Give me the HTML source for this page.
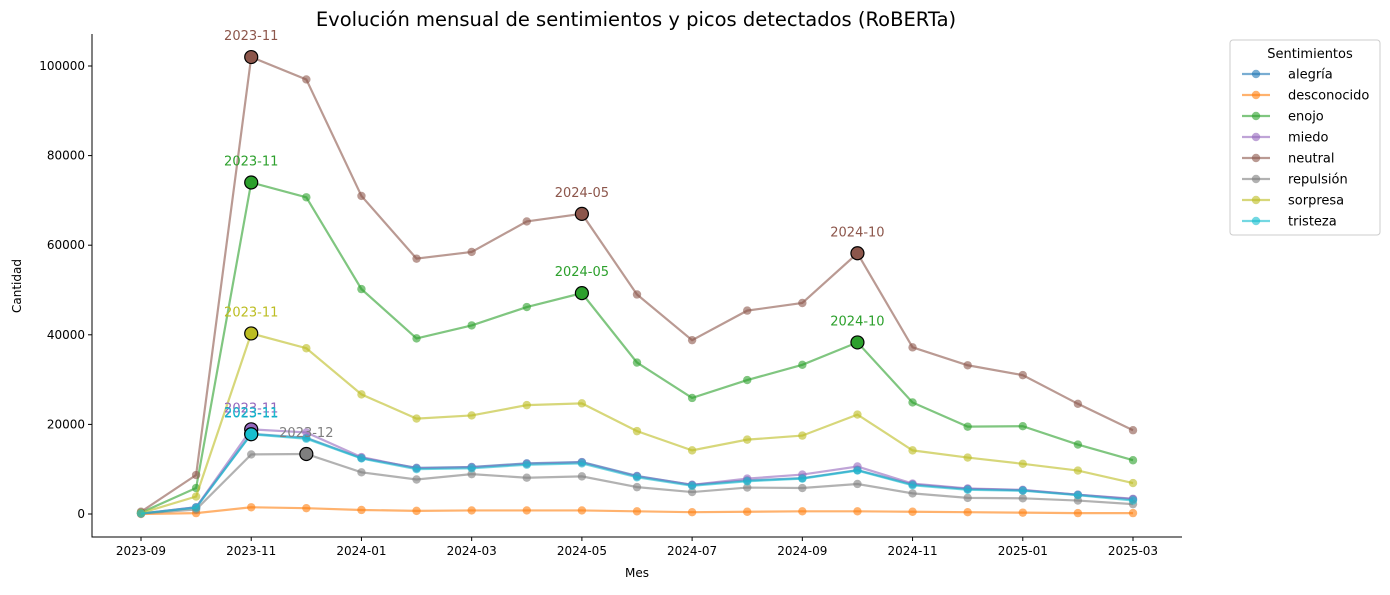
<!DOCTYPE html>
<html><head><meta charset="utf-8"><style>
body{margin:0;background:#fff;font-family:"Liberation Sans","DejaVu Sans",sans-serif;}
svg text{font-family:"DejaVu Sans","Liberation Sans",sans-serif;}
</style></head><body>
<svg id="c" width="1390" height="590"></svg>
<script>
const months=["2023-09","2023-10","2023-11","2023-12","2024-01","2024-02","2024-03","2024-04","2024-05","2024-06","2024-07","2024-08","2024-09","2024-10","2024-11","2024-12","2025-01","2025-02","2025-03"];
const seriesNames=["alegría","desconocido","enojo","miedo","neutral","repulsión","sorpresa","tristeza"];
const seriesColors=["#1f77b4","#ff7f0e","#2ca02c","#9467bd","#8c564b","#7f7f7f","#bcbd22","#17becf"];
const alegria=[100,1500,17900,17000,12500,10300,10500,11300,11600,8500,6500,7500,8000,9800,6600,5600,5300,4300,3300];
const desconocido=[0,200,1500,1300,900,700,800,800,800,600,400,500,600,600,500,400,300,200,200];
const enojo=[300,5800,74000,70700,50200,39200,42100,46200,49300,33800,25900,29900,33300,38300,24900,19500,19600,15500,12000];
const miedo=[100,1500,18900,18200,12700,10200,10400,11200,11500,8400,6500,7900,8800,10600,6800,5700,5400,4300,3400];
const neutral=[500,8700,102000,97000,71000,57000,58500,65300,67000,49000,38800,45400,47100,58200,37200,33200,31000,24600,18700];
const repulsion=[100,1000,13300,13400,9300,7700,8900,8100,8400,6000,4900,5900,5800,6700,4600,3600,3500,3000,2200];
const sorpresa=[200,3900,40300,37000,26700,21300,22000,24300,24700,18500,14200,16600,17500,22200,14200,12600,11200,9700,6900];
const tristeza=[100,1400,17800,16800,12400,10000,10200,11000,11300,8200,6300,7300,7900,9700,6400,5400,5200,4200,3000];
const seriesData=[alegria,desconocido,enojo,miedo,neutral,repulsion,sorpresa,tristeza];
const peakIdx=[[2],[],[2,8,13],[2],[2,8,13],[3],[2],[2]];
const yTicks=[0,20000,40000,60000,80000,100000];
const xTickIdx=[0,2,4,6,8,10,12,14,16,18];

const NS="http://www.w3.org/2000/svg";
const svg=document.getElementById('c');
function el(t,a,p){const e=document.createElementNS(NS,t);for(const k in a)e.setAttribute(k,a[k]);(p||svg).appendChild(e);return e;}
const L=92,R=1182,T=34,B=537;
const x=i=>141+i*(1133-141)/18;
const y=v=>514-v*(514-66)/100000;

let t=el('text',{x:636,y:26,'font-size':19.5,'text-anchor':'middle'});t.textContent="Evolución mensual de sentimientos y picos detectados (RoBERTa)";

let ax=el('path',{d:`M${L} ${T}V${B}H${R}`,stroke:'#000',fill:'none','stroke-width':1});

yTicks.forEach(v=>{el('line',{x1:L-4,x2:L,y1:y(v),y2:y(v),stroke:'#000'});
 const tt=el('text',{x:L-7,y:y(v)+4,'font-size':12,'text-anchor':'end'});tt.textContent=v;
 });
xTickIdx.forEach(i=>{el('line',{x1:x(i),x2:x(i),y1:B,y2:B+4,stroke:'#000'});
 const tt=el('text',{x:x(i),y:B+18,'font-size':12,'text-anchor':'middle'});tt.textContent=months[i];
 });
t=el('text',{x:637,y:577,'font-size':12,'text-anchor':'middle'});t.textContent="Mes";

t=el('text',{x:21,y:286,'font-size':12,'text-anchor':'middle',transform:'rotate(-90 21 286)'});t.textContent="Cantidad";


seriesData.forEach((d,s)=>{
 const g=el('g',{});
 el('polyline',{points:d.map((v,i)=>x(i)+','+y(v)).join(' '),fill:'none',stroke:seriesColors[s],'stroke-width':2.2,'stroke-opacity':0.6},g);
 d.forEach((v,i)=>{el('circle',{cx:x(i),cy:y(v),r:4.2,fill:seriesColors[s],'fill-opacity':0.6},g);});
});
seriesData.forEach((d,s)=>{peakIdx[s].forEach(i=>{
 const c=el('circle',{cx:x(i),cy:y(d[i]),r:6.5,fill:seriesColors[s],stroke:'#000','stroke-width':1.2});
 
 const tt=el('text',{x:x(i),y:y(d[i])-17,'font-size':13,'text-anchor':'middle',fill:seriesColors[s]});tt.textContent=months[i];
 
});});

const lg=el('g',{});
el('rect',{x:1230,y:40,width:150,height:195,rx:3,fill:'#fff',stroke:'#ccc'},lg);
t=el('text',{x:1310,y:58,'font-size':13,'text-anchor':'middle'},lg);t.textContent="Sentimientos";
seriesNames.forEach((n,s)=>{const yy=74+s*21;
 const e=el('g',{},lg);
 el('line',{x1:1242,x2:1270,y1:yy,y2:yy,stroke:seriesColors[s],'stroke-width':2.2,'stroke-opacity':0.6},e);
 el('circle',{cx:1256,cy:yy,r:4.2,fill:seriesColors[s],'fill-opacity':0.6},e);
 const tx=el('text',{x:1288,y:yy+4.5,'font-size':13},e);tx.textContent=n;});
</script>
</body></html>
